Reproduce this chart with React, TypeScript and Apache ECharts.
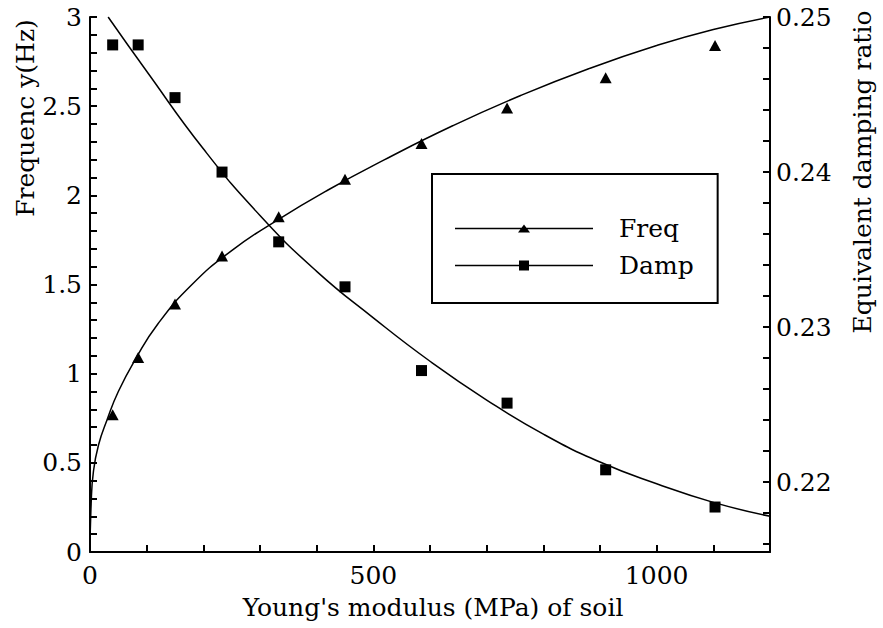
import { useEffect, useRef } from "react";
import * as echarts from "echarts";

// Measured points: Young's modulus (MPa) with natural frequency (Hz) and damping ratio
const modulus = [40, 85, 150, 233, 333, 450, 585, 736, 910, 1103];
const frequency = [0.77, 1.09, 1.39, 1.66, 1.88, 2.09, 2.29, 2.49, 2.66, 2.84];
const damping = [0.2482, 0.2482, 0.2448, 0.24, 0.2355, 0.2326, 0.2272, 0.2251, 0.2208, 0.2184];

// Fitted trend curves
const freqFitModulus = [0, 2, 6, 15, 30, 50, 80, 120, 180, 250, 330, 420, 520, 640, 760, 880, 1000, 1100, 1200];
const freqFitValue = [0, 0.27, 0.45, 0.6, 0.74, 0.9, 1.08, 1.28, 1.5, 1.69, 1.86, 2.03, 2.2, 2.39, 2.56, 2.71, 2.84, 2.93, 3.0];
const dampFitModulus = [32, 100, 200, 300, 400, 500, 600, 700, 800, 900, 1000, 1100, 1200];
const dampFitValue = [0.25, 0.2465, 0.2415, 0.2372, 0.2336, 0.2306, 0.2278, 0.2253, 0.2231, 0.2213, 0.2199, 0.2187, 0.2178];

// Axis ticks and labels
const xTicks = [0, 100, 200, 300, 400, 500, 600, 700, 800, 900, 1000, 1100, 1200];
const xLabels = [0, 500, 1000];
const yTicks = [0, 0.1, 0.2, 0.3, 0.4, 0.5, 0.6, 0.7, 0.8, 0.9, 1, 1.1, 1.2, 1.3, 1.4, 1.5, 1.6, 1.7, 1.8, 1.9, 2, 2.1, 2.2, 2.3, 2.4, 2.5, 2.6, 2.7, 2.8, 2.9, 3];
const yLabels = [0, 0.5, 1, 1.5, 2, 2.5, 3];
const y2Ticks = [0.216, 0.218, 0.22, 0.222, 0.224, 0.226, 0.228, 0.23, 0.232, 0.234, 0.236, 0.238, 0.24, 0.242, 0.244, 0.246, 0.248, 0.25];
const y2Labels = [0.22, 0.23, 0.24, 0.25];

const FONT = "DejaVu Serif";
const FS = 25;
const INK = "#000";

const freqIcon = "path://M0,4.25h138v1.5h-138z M63,9 L69,1 L75,9 Z";
const dampIcon = "path://M0,4.25h138v1.5h-138z M64,0h10v10h-10z";

const pairs = (xs: number[], ys: number[]) => xs.map((x, i) => [x, ys[i]]);
const plain = (v: number) => String(v);

export default function App() {
  const ref = useRef<HTMLDivElement>(null);

  useEffect(() => {
    if (!ref.current) return;
    const chart = echarts.init(ref.current, undefined, { renderer: "svg" });

    const axisCommon = {
      type: "value" as const,
      splitLine: { show: false },
      axisLine: { show: true, onZero: false, lineStyle: { color: INK, width: 2 } },
      minorTick: { show: false },
    };
    const labelStyle = { color: INK, fontFamily: FONT, fontSize: FS, formatter: plain };
    const titleStyle = { fill: INK, fontFamily: FONT, fontSize: FS, textAlign: "center", textVerticalAlign: "middle" };

    chart.setOption({
      animation: false,
      backgroundColor: "#fff",
      grid: { left: 90, right: 113, top: 17, bottom: 76, containLabel: false },
      xAxis: {
        ...axisCommon,
        min: 0,
        max: 1200,
        position: "bottom",
        axisTick: { show: true, inside: true, length: 7, customValues: xTicks, lineStyle: { color: INK, width: 2 } },
        axisLabel: { ...labelStyle, customValues: xLabels, margin: 11 },
      },
      yAxis: [
        {
          ...axisCommon,
          min: 0,
          max: 3,
          position: "left",
          axisTick: { show: true, inside: true, length: 7, customValues: yTicks, lineStyle: { color: INK, width: 2 } },
          axisLabel: { ...labelStyle, customValues: yLabels, margin: 8 },
        },
        {
          ...axisCommon,
          min: 0.2155,
          max: 0.25,
          position: "right",
          axisTick: { show: true, inside: true, length: 7, customValues: y2Ticks, lineStyle: { color: INK, width: 2 } },
          axisLabel: { ...labelStyle, customValues: y2Labels, margin: 6 },
        },
      ],
      legend: {
        orient: "vertical",
        left: 432,
        top: 174,
        selectedMode: false,
        borderColor: INK,
        borderWidth: 2,
        padding: [42, 24, 25, 23],
        itemWidth: 138,
        itemHeight: 10,
        itemGap: 12,
        textStyle: { color: INK, fontFamily: FONT, fontSize: FS, padding: [0, 0, 0, 21] },
        data: [
          { name: "Freq", icon: freqIcon },
          { name: "Damp", icon: dampIcon },
        ],
      },
      graphic: [
        {
          type: "text",
          x: 433,
          y: 607,
          style: { ...titleStyle, text: "Young's modulus (MPa) of soil" },
        },
        {
          type: "text",
          x: 25,
          y: 118,
          rotation: Math.PI / 2,
          style: { ...titleStyle, text: "Frequenc y(Hz)" },
        },
        {
          type: "text",
          x: 862,
          y: 172,
          rotation: Math.PI / 2,
          style: { ...titleStyle, text: "Equivalent damping ratio" },
        },
      ],
      series: [
        {
          name: "Freq fit",
          type: "line",
          xAxisIndex: 0,
          yAxisIndex: 0,
          data: pairs(freqFitModulus, freqFitValue),
          smooth: true,
          showSymbol: false,
          lineStyle: { color: INK, width: 1.5 },
          silent: true,
        },
        {
          name: "Damp fit",
          type: "line",
          xAxisIndex: 0,
          yAxisIndex: 1,
          data: pairs(dampFitModulus, dampFitValue),
          smooth: true,
          showSymbol: false,
          lineStyle: { color: INK, width: 1.5 },
          silent: true,
        },
        {
          name: "Freq",
          type: "scatter",
          xAxisIndex: 0,
          yAxisIndex: 0,
          data: pairs(modulus, frequency),
          symbol: "triangle",
          symbolSize: [12, 11],
          itemStyle: { color: INK, opacity: 1 },
          silent: true,
        },
        {
          name: "Damp",
          type: "scatter",
          xAxisIndex: 0,
          yAxisIndex: 1,
          data: pairs(modulus, damping),
          symbol: "rect",
          symbolSize: 11,
          itemStyle: { color: INK, opacity: 1 },
          silent: true,
        },
      ],
    });

    return () => chart.dispose();
  }, []);

  return (
    <div
      ref={ref}
      style={{ position: "fixed", left: 0, top: 0, width: 883, height: 628, background: "#fff" }}
    />
  );
}
